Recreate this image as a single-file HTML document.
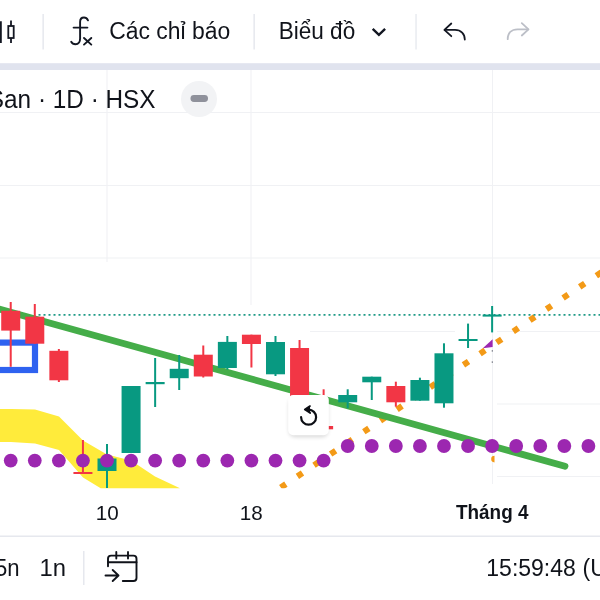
<!DOCTYPE html>
<html><head><meta charset="utf-8"><title>Chart</title>
<style>
html,body{margin:0;padding:0;background:#fff;}
body{width:600px;height:600px;overflow:hidden;position:relative;font-family:"Liberation Sans",sans-serif;color:#131722;}
svg{position:absolute;left:0;top:0;}
text{font-family:"Liberation Sans",sans-serif;fill:#10131a;}
</style></head><body>
<svg width="600" height="600" viewBox="0 0 600 600">
<rect width="600" height="600" fill="#fff"/>
<!-- grid -->
<g stroke="#f0f1f4" stroke-width="1.1">
<line x1="107" y1="70" x2="107" y2="262"/><line x1="251" y1="70" x2="251" y2="305"/><line x1="492.5" y1="70" x2="492.5" y2="484"/>
<line x1="0" y1="112.5" x2="600" y2="112.5"/><line x1="0" y1="185.5" x2="600" y2="185.5"/><line x1="0" y1="258" x2="600" y2="258"/>
<line x1="310" y1="331.5" x2="455" y2="331.5"/><line x1="497" y1="331.5" x2="600" y2="331.5"/>
<line x1="497" y1="404" x2="600" y2="404"/><line x1="497" y1="476.5" x2="600" y2="476.5"/>
</g>
<defs><clipPath id="pane"><rect x="0" y="70" width="600" height="418.200"/></clipPath></defs>
<!-- cloud -->
<polygon fill="#ffeb3b" points="-13,409 11,409 35,409.6 59,416.5 83,440.5 107,454.5 131,460.5 155,476.5 180,488.2 100.7,488.2 83,477.5 59,450 35,443.5 11,442 -13,442"/>
<!-- orange dotted -->
<line clip-path="url(#pane)" x1="280.800" y1="487.5" x2="610" y2="266.5" stroke="#f39a17" stroke-width="6.1" stroke-dasharray="6.1 13.9"/>
<path d="M494.5 455.800 A3.300 3.300 0 0 0 494.5 462.400 Z" fill="#f39a17"/>
<!-- blue rect -->
<rect x="-10" y="342.600" width="45" height="27.400" fill="none" stroke="#2f62f0" stroke-width="6.2"/>
<!-- price line -->
<line x1="38.5" y1="314.800" x2="600" y2="314.800" stroke="#1f9a86" stroke-width="1.7" stroke-dasharray="2 3"/>
<!-- trend -->
<line x1="-5" y1="307.800" x2="565" y2="466.200" stroke="#45ad49" stroke-width="6.8" stroke-linecap="round"/>
<rect x="9.719999999999999" y="302" width="2" height="64.80000000000001" fill="#f23645"/>
<rect x="1.2199999999999989" y="310.8" width="19" height="19.80000000000001" fill="#f23645"/>
<rect x="33.78999999999999" y="304" width="2" height="39.69999999999999" fill="#f23645"/>
<rect x="25.289999999999992" y="316.7" width="19" height="27.0" fill="#f23645"/>
<rect x="57.86" y="349" width="2" height="33" fill="#f23645"/>
<rect x="49.36" y="350.8" width="19" height="29.5" fill="#f23645"/>
<rect x="81.93" y="440" width="2" height="34" fill="#f23645"/>
<rect x="73.43" y="472" width="19" height="2" fill="#f23645"/>
<rect x="106.0" y="444" width="2" height="44" fill="#089981"/>
<rect x="97.5" y="458.5" width="19" height="12.5" fill="#089981"/>
<rect x="130.07" y="386" width="2" height="67" fill="#089981"/>
<rect x="121.57" y="386" width="19" height="67" fill="#089981"/>
<rect x="154.14" y="358" width="2" height="49" fill="#089981"/>
<rect x="145.64" y="382" width="19" height="2.1999999999999886" fill="#089981"/>
<rect x="178.21" y="355" width="2" height="35" fill="#089981"/>
<rect x="169.71" y="368.8" width="19" height="9.399999999999977" fill="#089981"/>
<rect x="202.28" y="345.5" width="2" height="32.0" fill="#f23645"/>
<rect x="193.78" y="354.7" width="19" height="21.80000000000001" fill="#f23645"/>
<rect x="226.35" y="336" width="2" height="33.5" fill="#089981"/>
<rect x="217.85" y="341.9" width="19" height="26.100000000000023" fill="#089981"/>
<rect x="250.42000000000002" y="334.7" width="2" height="32.80000000000001" fill="#f23645"/>
<rect x="241.92000000000002" y="334.7" width="19" height="9.300000000000011" fill="#f23645"/>
<rect x="274.49" y="336" width="2" height="40" fill="#089981"/>
<rect x="265.99" y="342" width="19" height="32.30000000000001" fill="#089981"/>
<rect x="298.56" y="340" width="2" height="57" fill="#f23645"/>
<rect x="290.06" y="348" width="19" height="49" fill="#f23645"/>
<rect x="322.63" y="389.3" width="2" height="40.0" fill="#f23645"/>
<rect x="314.13" y="426" width="19" height="3.3000000000000114" fill="#f23645"/>
<rect x="346.7" y="389.3" width="2" height="19.0" fill="#089981"/>
<rect x="338.2" y="395" width="19" height="7.300000000000011" fill="#089981"/>
<rect x="370.77" y="376.7" width="2" height="23.30000000000001" fill="#089981"/>
<rect x="362.27" y="376.7" width="19" height="5.600000000000023" fill="#089981"/>
<rect x="394.84000000000003" y="381.7" width="2" height="25.0" fill="#f23645"/>
<rect x="386.34000000000003" y="386" width="19" height="16.30000000000001" fill="#f23645"/>
<rect x="418.91" y="377.7" width="2" height="23.0" fill="#089981"/>
<rect x="410.41" y="380" width="19" height="20.69999999999999" fill="#089981"/>
<rect x="442.98" y="343.3" width="2" height="64.39999999999998" fill="#089981"/>
<rect x="434.48" y="353.3" width="19" height="50.0" fill="#089981"/>
<rect x="467.05" y="323.6" width="2" height="24.399999999999977" fill="#089981"/>
<rect x="458.55" y="339" width="19" height="2" fill="#089981"/>
<rect x="491.12" y="306" width="2" height="26.399999999999977" fill="#089981"/>
<rect x="482.62" y="314.6" width="19" height="2.0" fill="#089981"/>
<polygon points="482.800,348.200 492.600,339.200 492.600,346.900" fill="#9c27b0"/>
<rect x="491.700" y="350.200" width="1.3" height="1.4" fill="#7a7d88"/><rect x="491.700" y="361.400" width="1.3" height="1.4" fill="#7a7d88"/>
<g fill="#9c27b0">
<circle cx="-13.349999999999994" cy="460.6" r="6.9"/>
<circle cx="10.719999999999999" cy="460.6" r="6.9"/>
<circle cx="34.78999999999999" cy="460.6" r="6.9"/>
<circle cx="58.86" cy="460.6" r="6.9"/>
<circle cx="82.93" cy="460.6" r="6.9"/>
<circle cx="107.0" cy="460.6" r="6.9"/>
<circle cx="131.07" cy="460.6" r="6.9"/>
<circle cx="155.14" cy="460.6" r="6.9"/>
<circle cx="179.21" cy="460.6" r="6.9"/>
<circle cx="203.28" cy="460.6" r="6.9"/>
<circle cx="227.35" cy="460.6" r="6.9"/>
<circle cx="251.42000000000002" cy="460.6" r="6.9"/>
<circle cx="275.49" cy="460.6" r="6.9"/>
<circle cx="299.56" cy="460.6" r="6.9"/>
<circle cx="323.63" cy="460.6" r="6.9"/>
<circle cx="347.7" cy="446" r="6.9"/>
<circle cx="371.77" cy="446" r="6.9"/>
<circle cx="395.84000000000003" cy="446" r="6.9"/>
<circle cx="419.91" cy="446" r="6.9"/>
<circle cx="443.98" cy="446" r="6.9"/>
<circle cx="468.05" cy="446" r="6.9"/>
<circle cx="492.12" cy="446" r="6.9"/>
<circle cx="516.19" cy="446" r="6.9"/>
<circle cx="540.26" cy="446" r="6.9"/>
<circle cx="564.3299999999999" cy="446" r="6.9"/>
<circle cx="588.4" cy="446" r="6.9"/>
<circle cx="612.47" cy="446" r="6.9"/>
</g>
<!-- reset button -->
<defs><filter id="sh" x="-30%" y="-30%" width="160%" height="170%"><feGaussianBlur stdDeviation="2.2"/></filter></defs>
<rect x="289" y="398" width="39" height="39" rx="6" fill="#000" opacity="0.16" filter="url(#sh)"/>
<rect x="288.200" y="395" width="40.600" height="40.300" rx="5" fill="#fff"/>
<g fill="none" stroke="#0c0e14" stroke-width="2.2" stroke-linecap="round" stroke-linejoin="round">
<path d="M308.600 409.700 A7.5 7.5 0 1 1 301.100 417.200"/>
<path d="M310 406.100 L304.800 409.600 L310.200 413" fill="#0c0e14" stroke-width="1.8"/>
</g>
<!-- top toolbar -->
<rect x="0" y="0" width="600" height="62.5" fill="#fff"/>
<rect x="0" y="63.200" width="600" height="6.800" fill="#e0e3ee"/>
<rect x="42.400" y="14" width="1.5" height="35.5" fill="#e6e8ee"/>
<rect x="253.400" y="14" width="1.5" height="35.5" fill="#e6e8ee"/>
<rect x="415.300" y="14" width="1.5" height="35.5" fill="#e9ebf0"/>
<!-- candle icon -->
<g fill="none" stroke="#131722" stroke-width="1.8">
<rect x="8.300" y="26" width="5.400" height="12"/><line x1="11" y1="20.5" x2="11" y2="26"/><line x1="11" y1="38" x2="11" y2="43"/>
<line x1="0.900" y1="21.200" x2="0.900" y2="43"/>
</g>
<!-- fx icon -->
<g fill="none" stroke="#131722" stroke-width="1.9" stroke-linecap="round">
<path d="M88 20.300 C87 18.300 85.5 17.5 84 17.5 C81.5 17.5 80.100 19.300 80.100 22 V38.5 C80.100 42.5 78 44.200 75.5 44.200 C73.5 44.200 72 43.300 71.200 41.800"/>
<line x1="73.600" y1="27.600" x2="87.400" y2="27.600"/>
<line x1="84" y1="38" x2="91.300" y2="44.600"/><line x1="91.300" y1="38" x2="84" y2="44.600"/>
</g>
<text x="109.200" y="38.900" font-size="23" textLength="121" lengthAdjust="spacingAndGlyphs">Các chỉ báo</text>
<text x="278.700" y="38.900" font-size="23" textLength="76.5" lengthAdjust="spacingAndGlyphs">Biểu đồ</text>
<path d="M372.700 28.800 l6.200 6 l6.200 -6" fill="none" stroke="#131722" stroke-width="2.4"/>
<!-- undo -->
<g fill="none" stroke="#131722" stroke-width="1.8" stroke-linecap="round" stroke-linejoin="round">
<path d="M451.300 23.5 L444.400 29.900 L451.300 36.200"/><path d="M444.800 29.900 H455 C461 29.900 464.800 33.800 464.800 39.600"/>
</g>
<g fill="none" stroke="#bcbfc7" stroke-width="1.8" stroke-linecap="round" stroke-linejoin="round">
<path d="M521.800 23.100 L528.5 29.300 L521.800 35.5"/><path d="M528 29.300 H517.5 C511.5 29.300 507.700 33.200 507.700 39.200"/>
</g>
<!-- legend -->
<text x="-12.200" y="107.700" font-size="25.5" textLength="167.750" lengthAdjust="spacingAndGlyphs">San · 1D · HSX</text>
<circle cx="199" cy="99" r="18" fill="#f2f3f5"/>
<rect x="190.5" y="95.100" width="17.5" height="6.800" rx="3.400" fill="#8f919b"/>
<!-- time axis -->
<rect x="0" y="498" width="600" height="102" fill="#fff"/>
<text x="107.200" y="519.700" font-size="20.600" text-anchor="middle">10</text>
<text x="251.300" y="519.700" font-size="20.600" text-anchor="middle">18</text>
<text x="456" y="519.300" font-size="19.5" font-weight="bold" textLength="72.5" lengthAdjust="spacingAndGlyphs">Tháng 4</text>
<rect x="0" y="535.5" width="600" height="1.5" fill="#e6e8ee"/>
<text x="-5" y="576" font-size="23" textLength="24.600" lengthAdjust="spacingAndGlyphs">5n</text>
<text x="39.5" y="576" font-size="23" textLength="26.5" lengthAdjust="spacingAndGlyphs">1n</text>
<rect x="83" y="551" width="1.5" height="34" fill="#e6e8ee"/>
<!-- calendar icon -->
<g fill="none" stroke="#10131a" stroke-width="1.9" stroke-linecap="round" stroke-linejoin="round">
<path d="M108 566.200 V558.700 Q108 555.600 111.100 555.600 H133.400 Q136.5 555.600 136.5 558.700 V577.900 Q136.5 581 133.400 581 H122.800"/>
<line x1="108" y1="562.200" x2="136.5" y2="562.200"/>
<line x1="116.300" y1="552" x2="116.300" y2="558.5"/><line x1="128" y1="552" x2="128" y2="558.5"/>
<path d="M105.5 575.5 H118.300 M112.700 570 L118.5 575.5 L112.700 581"/>
</g>
<text x="486.300" y="575.600" font-size="23">15:59:48</text>
<text x="582.600" y="575.600" font-size="23">(UTC+7)</text>
</svg>
</body></html>
